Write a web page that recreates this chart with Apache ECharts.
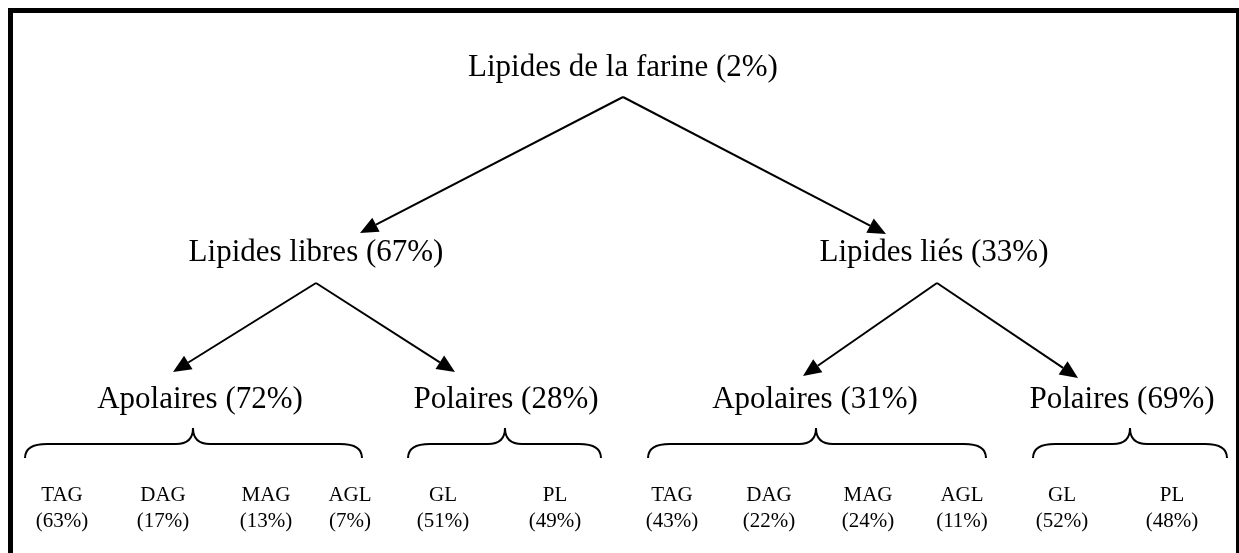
<!DOCTYPE html>
<html>
<head>
<meta charset="utf-8">
<script src="https://cdn.jsdelivr.net/npm/echarts@6/dist/echarts.min.js"></script>
<style>
  html, body { margin: 0; padding: 0; background: #fff; }
  #chart { width: 1239px; height: 553px; }
</style>
</head>
<body>
<div id="chart"></div>
<script>
// données
const rootName = ['Lipides de la farine'];
const rootPct = [2];
const level1Names = ['Lipides libres', 'Lipides liés'];
const level1Pct = [67, 33];
const level2Names = ['Apolaires', 'Polaires', 'Apolaires', 'Polaires'];
const level2Pct = [72, 28, 31, 69];
const level2Parent = [0, 0, 1, 1];
const leafNames = ['TAG', 'DAG', 'MAG', 'AGL', 'GL', 'PL', 'TAG', 'DAG', 'MAG', 'AGL', 'GL', 'PL'];
const leafPct = [63, 17, 13, 7, 51, 49, 43, 22, 24, 11, 52, 48];

// mise en page (unités de l'axe caché, 1 unité = 1 px)
const rootX = [623], rootY = 68;
const level1X = [316, 934], level1Y = 253;
const level2X = [200, 506, 815, 1122], level2Y = 400;
const leafX = [62, 163, 266, 350, 443, 555, 672, 769, 868, 962, 1062, 1172];
const leafY = [495, 521];
const level1Tip = [[360, 233], [886, 234]];
const level2Tip = [[173, 372], [455, 372], [803, 376], [1078, 378]];
const braceX = [[25, 362, 193], [408, 601, 505], [648, 986, 816], [1033, 1227, 1130]];
const braceY = [428, 444, 458];

const FONT = '"Liberation Serif", "Times New Roman", serif';

const chart = echarts.init(document.getElementById('chart'));

// libellés
const labelData = [];
labelData.push([rootX[0], rootY, rootName[0] + ' (' + rootPct[0] + '%)', 31]);
level1Names.forEach((n, i) => labelData.push([level1X[i], level1Y, n + ' (' + level1Pct[i] + '%)', 31]));
level2Names.forEach((n, i) => labelData.push([level2X[i], level2Y, n + ' (' + level2Pct[i] + '%)', 31]));
leafNames.forEach((n, i) => {
  labelData.push([leafX[i], leafY[0], n, 21]);
  labelData.push([leafX[i], leafY[1], '(' + leafPct[i] + '%)', 21]);
});

// flèches : départ sous le parent, arrivée au-dessus de l'enfant
const arrowData = [];
level1Tip.forEach(t => arrowData.push([rootX[0], 97, t[0], t[1]]));
level2Tip.forEach((t, i) => {
  const p = level2Parent[i];
  arrowData.push([level1X[p] + (p === 1 ? 3 : 0), level1Y + 30, t[0], t[1]]);
});

const braceData = braceX.map(b => [b[0], b[1], b[2]]);

const option = {
  animation: false,
  grid: { left: 0, right: 0, top: 0, bottom: 0 },
  xAxis: { type: 'value', min: 0, max: 1239, show: false },
  yAxis: { type: 'value', min: 0, max: 553, inverse: true, show: false },
  graphic: [{
    type: 'rect',
    shape: { x: 10.5, y: 10.5, width: 1228, height: 560 },
    style: { fill: 'none', stroke: '#000', lineWidth: 5 },
    silent: true
  }],
  series: [
    {
      type: 'custom',
      data: labelData,
      encode: { x: 0, y: 1 },
      renderItem: (params, api) => {
        const pt = api.coord([api.value(0), api.value(1)]);
        const d = labelData[params.dataIndex];
        return {
          type: 'text',
          style: {
            text: d[2], x: pt[0], y: pt[1],
            fill: '#000', fontSize: d[3], fontFamily: FONT,
            align: 'center', verticalAlign: 'middle'
          }
        };
      }
    },
    {
      type: 'custom',
      data: arrowData,
      encode: { x: [0, 2], y: [1, 3] },
      renderItem: (params, api) => {
        const a = api.coord([api.value(0), api.value(1)]);
        const b = api.coord([api.value(2), api.value(3)]);
        const dx = b[0] - a[0], dy = b[1] - a[1];
        const len = Math.sqrt(dx * dx + dy * dy);
        const ux = dx / len, uy = dy / len;
        const hl = 18, hw = 8;
        const bx = b[0] - ux * hl, by = b[1] - uy * hl;
        return {
          type: 'group',
          children: [
            {
              type: 'line',
              shape: { x1: a[0], y1: a[1], x2: bx, y2: by },
              style: { stroke: '#000', lineWidth: 2 }
            },
            {
              type: 'polygon',
              shape: { points: [[b[0], b[1]], [bx - uy * hw, by + ux * hw], [bx + uy * hw, by - ux * hw]] },
              style: { fill: '#000' }
            }
          ]
        };
      }
    },
    {
      type: 'custom',
      data: braceData,
      encode: { x: [0, 1, 2] },
      renderItem: (params, api) => {
        const l = api.coord([api.value(0), braceY[2]]);
        const r = api.coord([api.value(1), braceY[2]]);
        const top = api.coord([api.value(2), braceY[0]]);
        const flat = api.coord([0, braceY[1]])[1];
        const re = 22, rp = 17;
        const st = { stroke: '#000', lineWidth: 2, fill: 'none' };
        return {
          type: 'group',
          children: [
            { type: 'bezierCurve', shape: { x1: l[0], y1: l[1], cpx1: l[0], cpy1: flat, x2: l[0] + re, y2: flat }, style: st },
            { type: 'line', shape: { x1: l[0] + re, y1: flat, x2: top[0] - rp, y2: flat }, style: st },
            { type: 'bezierCurve', shape: { x1: top[0] - rp, y1: flat, cpx1: top[0], cpy1: flat, x2: top[0], y2: top[1] }, style: st },
            { type: 'bezierCurve', shape: { x1: top[0], y1: top[1], cpx1: top[0], cpy1: flat, x2: top[0] + rp, y2: flat }, style: st },
            { type: 'line', shape: { x1: top[0] + rp, y1: flat, x2: r[0] - re, y2: flat }, style: st },
            { type: 'bezierCurve', shape: { x1: r[0] - re, y1: flat, cpx1: r[0], cpy1: flat, x2: r[0], y2: r[1] }, style: st }
          ]
        };
      }
    }
  ]
};

chart.setOption(option);
</script>
</body>
</html>
